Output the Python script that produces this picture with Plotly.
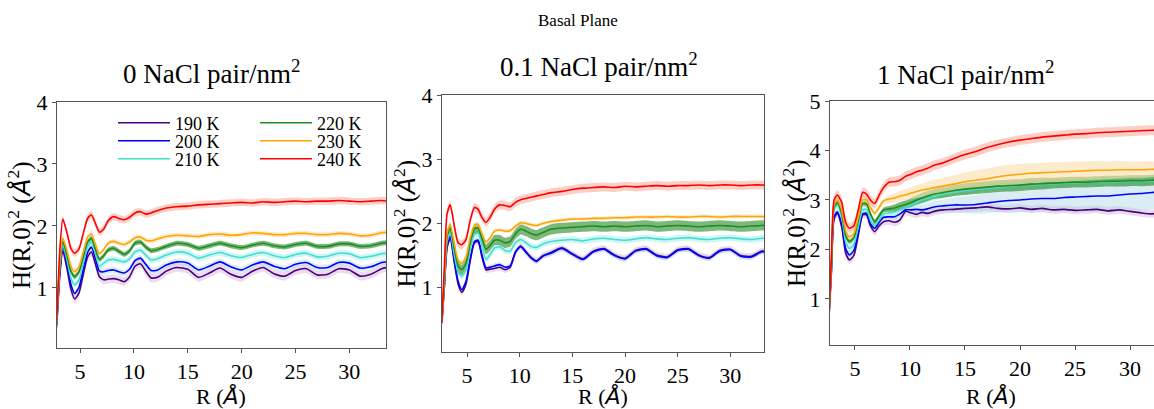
import numpy as np
import plotly.graph_objects as go

# Radial distance grid (Angstrom)
R = [2.6, 2.85, 3.1, 3.4, 3.8, 4.15, 4.5, 4.9, 5.3, 5.7, 6.05, 6.4, 6.8, 7.2, 7.6,
     8.1, 8.6, 9.1, 9.6, 10.1, 10.6, 11.1, 11.6, 12.2, 13, 14, 15, 16, 17, 18, 19,
     20, 21, 22, 23, 24, 25, 26, 27, 28, 29, 30, 31, 32, 33, 33.5]

TEMPS = ["190 K", "200 K", "210 K", "220 K", "230 K", "240 K"]
PANEL_TITLES = ["0 NaCl pair/nm<sup>2</sup>", "0.1 NaCl pair/nm<sup>2</sup>",
                "1 NaCl pair/nm<sup>2</sup>"]
SUPTITLE = "Basal Plane"
X_TICKS = [5, 10, 15, 20, 25, 30]

# ---- 0 NaCl pair/nm^2 ----
H0_190 = [0.0, 0.45, 1.15, 1.60, 1.30, 0.98, 0.82, 0.92, 1.22, 1.50, 1.58, 1.40, 1.18, 1.13, 1.14,
          1.15, 1.13, 1.10, 1.18, 1.35, 1.39, 1.27, 1.16, 1.17, 1.27, 1.33, 1.30, 1.17, 1.24, 1.32,
          1.22, 1.17, 1.27, 1.33, 1.23, 1.19, 1.28, 1.31, 1.21, 1.22, 1.31, 1.29, 1.19, 1.22, 1.31, 1.33]
H0_200 = [0.0, 0.50, 1.22, 1.67, 1.38, 1.06, 0.91, 1.01, 1.30, 1.57, 1.66, 1.49, 1.27, 1.26, 1.28,
          1.29, 1.26, 1.24, 1.30, 1.44, 1.48, 1.38, 1.28, 1.29, 1.37, 1.42, 1.40, 1.29, 1.35, 1.42,
          1.34, 1.29, 1.37, 1.42, 1.35, 1.31, 1.38, 1.41, 1.33, 1.33, 1.41, 1.40, 1.32, 1.34, 1.41, 1.42]
H0_210 = [0.0, 0.52, 1.28, 1.69, 1.44, 1.16, 1.05, 1.13, 1.40, 1.66, 1.74, 1.57, 1.35, 1.40, 1.45,
          1.46, 1.44, 1.42, 1.47, 1.58, 1.61, 1.53, 1.45, 1.47, 1.53, 1.58, 1.56, 1.48, 1.53, 1.57,
          1.52, 1.49, 1.54, 1.57, 1.52, 1.49, 1.54, 1.56, 1.50, 1.51, 1.56, 1.55, 1.49, 1.51, 1.55, 1.56]
H0_220 = [0.0, 0.53, 1.33, 1.75, 1.52, 1.27, 1.18, 1.26, 1.50, 1.74, 1.80, 1.64, 1.46, 1.52, 1.61,
          1.64, 1.59, 1.54, 1.60, 1.72, 1.74, 1.66, 1.60, 1.62, 1.67, 1.72, 1.70, 1.64, 1.68, 1.72,
          1.68, 1.65, 1.69, 1.72, 1.68, 1.66, 1.70, 1.72, 1.67, 1.67, 1.71, 1.71, 1.67, 1.68, 1.72, 1.73]
H0_230 = [0.0, 0.54, 1.38, 1.80, 1.59, 1.35, 1.26, 1.34, 1.58, 1.82, 1.87, 1.72, 1.55, 1.62, 1.72,
          1.75, 1.72, 1.70, 1.74, 1.81, 1.82, 1.77, 1.76, 1.79, 1.83, 1.85, 1.84, 1.83, 1.86, 1.87,
          1.85, 1.86, 1.89, 1.88, 1.86, 1.86, 1.88, 1.88, 1.86, 1.86, 1.88, 1.87, 1.84, 1.85, 1.89, 1.90]
H0_240 = [0.0, 0.55, 1.55, 2.11, 1.88, 1.64, 1.56, 1.63, 1.88, 2.12, 2.18, 2.05, 1.90, 1.95, 2.08,
          2.15, 2.12, 2.10, 2.14, 2.21, 2.23, 2.19, 2.21, 2.25, 2.29, 2.31, 2.32, 2.34, 2.35, 2.36,
          2.37, 2.38, 2.37, 2.39, 2.38, 2.39, 2.40, 2.39, 2.40, 2.40, 2.41, 2.40, 2.39, 2.40, 2.41, 2.40]
SD0 = [0.07, 0.05, 0.05, 0.04, 0.04, 0.06]

# ---- 0.1 NaCl pair/nm^2 ----
H01_190 = [0.45, 1.02, 1.62, 1.77, 1.38, 1.06, 0.93, 1.06, 1.42, 1.70, 1.72, 1.49, 1.28, 1.29, 1.30,
           1.32, 1.28, 1.32, 1.55, 1.65, 1.56, 1.47, 1.42, 1.50, 1.55, 1.62, 1.53, 1.45, 1.57, 1.61,
           1.51, 1.46, 1.58, 1.61, 1.51, 1.48, 1.59, 1.61, 1.51, 1.47, 1.58, 1.60, 1.50, 1.49, 1.57, 1.56]
H01_200 = [0.45, 1.05, 1.65, 1.80, 1.42, 1.10, 0.97, 1.10, 1.45, 1.72, 1.74, 1.52, 1.31, 1.32, 1.34,
           1.36, 1.32, 1.34, 1.56, 1.64, 1.55, 1.46, 1.41, 1.49, 1.54, 1.61, 1.52, 1.44, 1.56, 1.60,
           1.50, 1.45, 1.57, 1.60, 1.50, 1.47, 1.58, 1.60, 1.50, 1.46, 1.57, 1.59, 1.49, 1.48, 1.56, 1.55]
H01_210 = [0.45, 1.10, 1.72, 1.85, 1.50, 1.24, 1.18, 1.28, 1.60, 1.83, 1.85, 1.66, 1.44, 1.52, 1.62,
           1.64, 1.58, 1.57, 1.70, 1.75, 1.70, 1.64, 1.63, 1.68, 1.72, 1.74, 1.75, 1.73, 1.76, 1.77,
           1.75, 1.74, 1.76, 1.78, 1.76, 1.75, 1.77, 1.78, 1.76, 1.75, 1.77, 1.78, 1.76, 1.75, 1.77, 1.77]
H01_220 = [0.45, 1.15, 1.80, 1.93, 1.60, 1.34, 1.28, 1.38, 1.70, 1.92, 1.93, 1.78, 1.60, 1.66, 1.74,
           1.74, 1.70, 1.72, 1.84, 1.91, 1.88, 1.84, 1.82, 1.86, 1.91, 1.93, 1.94, 1.95, 1.96, 1.95,
           1.96, 1.95, 1.96, 1.97, 1.95, 1.96, 1.97, 1.96, 1.95, 1.96, 1.97, 1.96, 1.95, 1.96, 1.97, 1.97]
H01_230 = [0.45, 1.20, 1.85, 1.98, 1.68, 1.43, 1.38, 1.48, 1.78, 1.97, 1.98, 1.85, 1.71, 1.78, 1.88,
           1.90, 1.88, 1.89, 1.96, 2.01, 2.00, 1.98, 1.97, 2.00, 2.03, 2.05, 2.07, 2.07, 2.08, 2.08,
           2.09, 2.09, 2.10, 2.10, 2.10, 2.11, 2.10, 2.10, 2.11, 2.11, 2.10, 2.11, 2.11, 2.11, 2.11, 2.11]
H01_240 = [0.45, 1.35, 2.15, 2.29, 1.95, 1.70, 1.67, 1.75, 2.05, 2.25, 2.22, 2.10, 2.02, 2.10, 2.22,
           2.29, 2.28, 2.26, 2.33, 2.37, 2.39, 2.41, 2.43, 2.45, 2.48, 2.50, 2.53, 2.55, 2.56, 2.57,
           2.56, 2.58, 2.57, 2.58, 2.59, 2.58, 2.59, 2.59, 2.60, 2.59, 2.60, 2.60, 2.59, 2.60, 2.60, 2.59]
SD01 = [0.05, 0.04, 0.05, 0.08, 0.03, 0.07]

# ---- 1 NaCl pair/nm^2 ----
H1_190 = [0.5, 1.50, 2.62, 2.73, 2.45, 1.93, 1.79, 1.88, 2.28, 2.70, 2.70, 2.48, 2.36, 2.48, 2.56,
          2.58, 2.55, 2.60, 2.77, 2.74, 2.71, 2.75, 2.73, 2.77, 2.80, 2.81, 2.83, 2.84, 2.86, 2.83,
          2.82, 2.84, 2.81, 2.83, 2.80, 2.81, 2.79, 2.80, 2.81, 2.78, 2.80, 2.77, 2.74, 2.72, 2.75, 2.76]
H1_200 = [0.5, 1.55, 2.66, 2.76, 2.50, 2.02, 1.89, 1.98, 2.35, 2.72, 2.73, 2.52, 2.43, 2.55, 2.65,
          2.66, 2.66, 2.72, 2.80, 2.80, 2.81, 2.80, 2.82, 2.86, 2.88, 2.90, 2.90, 2.91, 2.94, 2.97,
          2.99, 3.00, 3.02, 3.03, 3.03, 3.05, 3.06, 3.07, 3.08, 3.08, 3.10, 3.12, 3.13, 3.15, 3.17, 3.17]
H1_210 = [0.5, 1.60, 2.80, 2.90, 2.65, 2.15, 2.02, 2.10, 2.45, 2.80, 2.81, 2.60, 2.49, 2.60, 2.72,
          2.74, 2.76, 2.80, 2.85, 2.90, 2.95, 3.00, 3.03, 3.07, 3.12, 3.16, 3.19, 3.22, 3.24, 3.26,
          3.28, 3.30, 3.31, 3.32, 3.33, 3.34, 3.35, 3.36, 3.36, 3.37, 3.37, 3.38, 3.38, 3.39, 3.38, 3.38]
H1_220 = [0.5, 1.65, 2.85, 2.95, 2.72, 2.28, 2.16, 2.24, 2.58, 2.93, 2.92, 2.72, 2.56, 2.68, 2.80,
          2.82, 2.84, 2.88, 2.91, 2.95, 3.00, 3.04, 3.08, 3.12, 3.15, 3.19, 3.22, 3.24, 3.26, 3.28,
          3.29, 3.30, 3.32, 3.33, 3.34, 3.35, 3.36, 3.36, 3.37, 3.38, 3.38, 3.39, 3.39, 3.40, 3.40, 3.40]
H1_230 = [0.5, 1.70, 2.90, 3.00, 2.80, 2.38, 2.25, 2.32, 2.65, 3.00, 3.00, 2.85, 2.73, 2.85, 2.98,
          3.02, 3.04, 3.08, 3.10, 3.14, 3.17, 3.20, 3.22, 3.25, 3.28, 3.32, 3.37, 3.40, 3.43, 3.47,
          3.50, 3.52, 3.54, 3.55, 3.56, 3.57, 3.58, 3.59, 3.60, 3.60, 3.61, 3.61, 3.61, 3.62, 3.61, 3.61]
H1_240 = [0.5, 1.80, 3.00, 3.10, 2.95, 2.55, 2.43, 2.48, 2.80, 3.15, 3.12, 3.00, 2.93, 3.10, 3.25,
          3.36, 3.37, 3.40, 3.48, 3.52, 3.57, 3.60, 3.64, 3.70, 3.75, 3.84, 3.92, 3.98, 4.06, 4.12,
          4.17, 4.21, 4.24, 4.27, 4.29, 4.31, 4.33, 4.34, 4.36, 4.37, 4.38, 4.39, 4.40, 4.41, 4.40, 4.41]
SD1_200 = [0.04] * 15 + [0.05, 0.06, 0.07, 0.08, 0.09, 0.10, 0.10, 0.11, 0.12,
                         0.13, 0.15, 0.17, 0.19, 0.21, 0.22, 0.24, 0.25, 0.26, 0.27, 0.28,
                         0.29, 0.30, 0.31, 0.31, 0.32, 0.33, 0.33, 0.34, 0.34, 0.35, 0.35]
SD1_220 = [0.05] * 15 + [0.06, 0.07, 0.08, 0.08, 0.09, 0.09, 0.10, 0.10, 0.10,
                         0.11, 0.11, 0.12, 0.12, 0.12, 0.12, 0.12, 0.12, 0.12, 0.12, 0.11,
                         0.11, 0.11, 0.11, 0.11, 0.11, 0.11, 0.11, 0.11, 0.11, 0.11, 0.11]
SD1_230 = [0.06] * 15 + [0.08, 0.09, 0.10, 0.11, 0.12, 0.13, 0.14, 0.15, 0.16,
                         0.17, 0.18, 0.19, 0.20, 0.20, 0.21, 0.21, 0.21, 0.20, 0.20, 0.20,
                         0.20, 0.20, 0.19, 0.19, 0.18, 0.18, 0.17, 0.17, 0.16, 0.16, 0.16]
SD1 = [0.08, SD1_200, 0.08, SD1_220, SD1_230, 0.10]

PANELS = [
    dict(series=[H0_190, H0_200, H0_210, H0_220, H0_230, H0_240], sd=SD0,
         xrange=[2.86, 33.4], yrange=[0.03, 4.0], yticks=[1, 2, 3, 4],
         xdom=[57, 386], ydom=[102, 348], mirror_y=True, ytitle_x=19, xtitle_x=221),
    dict(series=[H01_190, H01_200, H01_210, H01_220, H01_230, H01_240], sd=SD01,
         xrange=[2.62, 33.2], yrange=[0.0, 4.0], yticks=[1, 2, 3, 4],
         xdom=[442, 764], ydom=[95, 352], mirror_y=True, ytitle_x=405, xtitle_x=603),
    dict(series=[H1_190, H1_200, H1_210, H1_220, H1_230, H1_240], sd=SD1,
         xrange=[2.73, 32.18], yrange=[0.07, 5.0], yticks=[1, 2, 3, 4, 5],
         xdom=[830, 1154], ydom=[101, 345], mirror_y=False, ytitle_x=794, xtitle_x=991),
]

W, H = 1154, 409
LINE_COLORS = ["#4b0082", "#0000ff", "#40e0d0", "#228b22", "#ffa500", "#ff0000"]
BAND_COLORS = ["rgba(216,191,216,0.55)", "rgba(173,216,230,0.45)", "rgba(175,238,238,0.6)",
               "rgba(34,139,34,0.6)", "rgba(250,222,170,0.6)", "rgba(250,150,130,0.45)"]
SERIF = "Liberation Serif"
INK = "#000000"
ANG = '<span style="font-family:DejaVu Sans"><i>Å</i></span>'
Y_TITLE = "H(R,0)<sup>2</sup> (" + ANG + "<sup>2</sup>)"
X_TITLE = "R (" + ANG + ")"
X_TITLE_Y = 396

# legend entry anchors: (left px, centre px) for two columns of three rows
LEGEND_POS = [(113, 123), (113, 141), (113, 159), (255, 123), (255, 141), (255, 159)]

fig = go.Figure()
x_arr = np.array(R)

for p, panel in enumerate(PANELS):
    sfx = "" if p == 0 else str(p + 1)
    xa, ya = "x" + sfx, "y" + sfx
    # uncertainty bands underneath all lines
    for k, vals in enumerate(panel["series"]):
        v = np.array(vals)
        sd = np.broadcast_to(np.asarray(panel["sd"][k], dtype=float), v.shape)
        fig.add_trace(go.Scatter(x=x_arr, y=v - sd, mode="lines",
                                 line=dict(width=0, shape="spline", smoothing=0.6),
                                 showlegend=False, hoverinfo="skip", xaxis=xa, yaxis=ya))
        fig.add_trace(go.Scatter(x=x_arr, y=v + sd, mode="lines", fill="tonexty",
                                 fillcolor=BAND_COLORS[k],
                                 line=dict(width=0, shape="spline", smoothing=0.6),
                                 showlegend=False, hoverinfo="skip", xaxis=xa, yaxis=ya))
    for k, vals in enumerate(panel["series"]):
        fig.add_trace(go.Scatter(
            x=x_arr, y=vals, mode="lines", name=TEMPS[k],
            line=dict(color=LINE_COLORS[k], width=1.6, shape="spline", smoothing=0.6),
            showlegend=(p == 0), legend="legend" if k == 0 else "legend%d" % (k + 1),
            xaxis=xa, yaxis=ya))

    axis_common = dict(showline=True, linecolor="#555555", linewidth=1, ticks="outside",
                       ticklen=4, tickcolor="#555555", showgrid=False, zeroline=False,
                       tickfont=dict(family=SERIF, size=22, color=INK), automargin=False)
    fig.update_layout(**{
        ("xaxis" + sfx): dict(axis_common, domain=[panel["xdom"][0] / W, panel["xdom"][1] / W],
                              range=panel["xrange"], tickvals=X_TICKS, mirror=True,
                              anchor=ya),
        ("yaxis" + sfx): dict(axis_common, domain=[1 - panel["ydom"][1] / H, 1 - panel["ydom"][0] / H],
                              range=panel["yrange"], tickvals=panel["yticks"],
                              mirror=panel["mirror_y"], anchor=xa),
    })
    # axis labels
    fig.add_annotation(x=panel["ytitle_x"] / W, y=1 - (panel["ydom"][0] + panel["ydom"][1]) / 2 / H,
                       xref="paper", yref="paper", text=Y_TITLE, textangle=-90,
                       showarrow=False, xanchor="center", yanchor="middle",
                       font=dict(family=SERIF, size=25, color=INK))
    fig.add_annotation(x=panel["xtitle_x"] / W, y=1 - X_TITLE_Y / H,
                       xref="paper", yref="paper", text=X_TITLE,
                       showarrow=False, xanchor="center", yanchor="middle",
                       font=dict(family=SERIF, size=22, color=INK))

# subplot headings and figure title
heads = [(211, 72, PANEL_TITLES[0]), (599, 65, PANEL_TITLES[1]), (965, 73, PANEL_TITLES[2])]
for cx, cy, txt in heads:
    fig.add_annotation(x=cx / W, y=1 - cy / H, xref="paper", yref="paper", text=txt,
                       showarrow=False, xanchor="center", yanchor="middle",
                       font=dict(family=SERIF, size=27, color=INK))
fig.add_annotation(x=578 / W, y=1 - 20 / H, xref="paper", yref="paper", text=SUPTITLE,
                   showarrow=False, xanchor="center", yanchor="middle",
                   font=dict(family=SERIF, size=17, color=INK))

legend_style = dict(bgcolor="rgba(0,0,0,0)", font=dict(family=SERIF, size=18, color=INK),
                    xanchor="left", yanchor="middle", itemwidth=52, borderwidth=0)
legends = {}
for k, (lx, ly) in enumerate(LEGEND_POS):
    key = "legend" if k == 0 else "legend%d" % (k + 1)
    legends[key] = dict(legend_style, x=lx / W, y=1 - ly / H)

fig.update_layout(width=W, height=H, margin=dict(l=0, r=0, t=0, b=0),
                  paper_bgcolor="white", plot_bgcolor="white", **legends)

fig.write_html("out.html")
